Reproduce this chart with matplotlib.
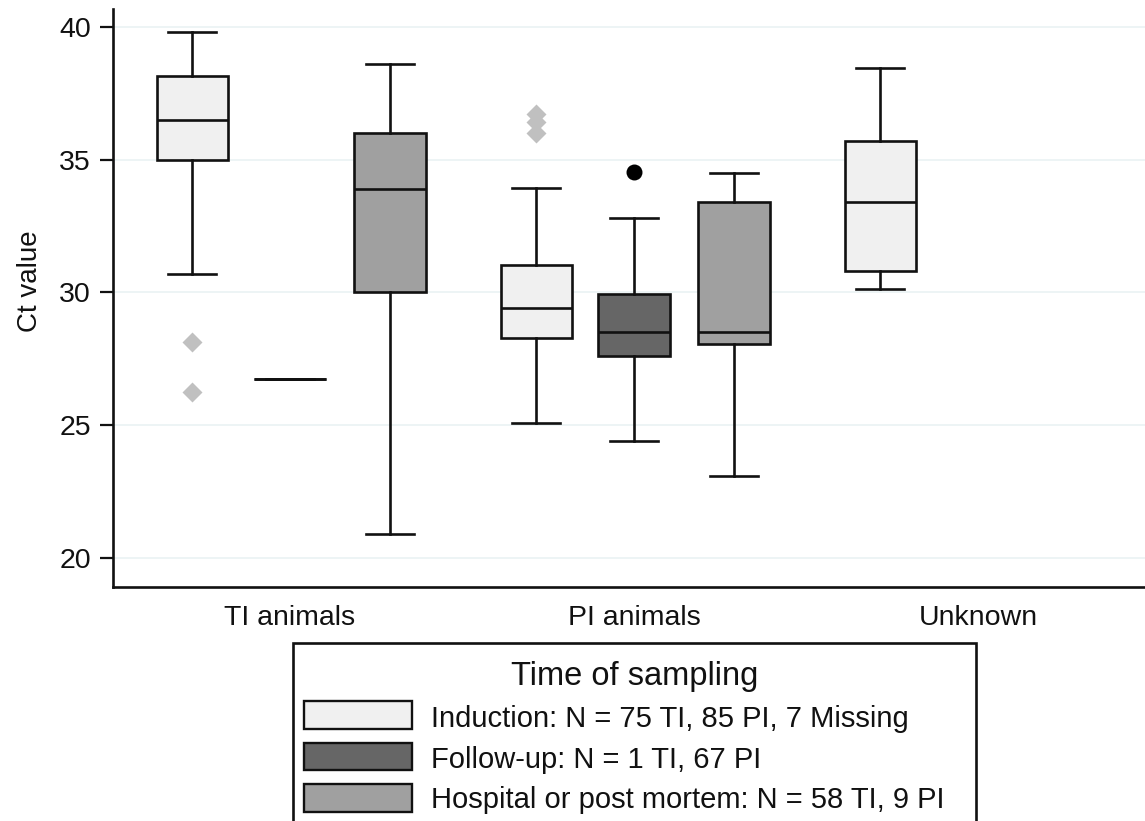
import matplotlib
matplotlib.use("Agg")
import matplotlib.pyplot as plt
from matplotlib.patches import Rectangle

plt.rcParams['font.family'] = ['Liberation Sans', 'DejaVu Sans']

# ---------------- data ----------------
groups = ["TI animals", "PI animals", "Unknown"]
time_labels = ["Induction: N = 75 TI, 85 PI, 7 Missing",
               "Follow-up: N = 1 TI, 67 PI",
               "Hospital or post mortem: N = 58 TI, 9 PI"]
time_colors = ["#F0F0F0", "#666666", "#A0A0A0"]
flier_colors = ["#C0C0C0", "#000000", "#C0C0C0"]
flier_markers = ["D", "o", "D"]

box_group = [0, 0, 0, 1, 1, 1, 2]
box_time = [0, 1, 2, 0, 1, 2, 0]
whislo = [30.7, 26.75, 20.9, 25.1, 24.4, 23.1, 30.15]
q1 = [35.0, 26.75, 30.0, 28.3, 27.6, 28.05, 30.8]
med = [36.5, 26.75, 33.9, 29.4, 28.5, 28.5, 33.4]
q3 = [38.15, 26.75, 36.0, 31.05, 29.95, 33.4, 35.7]
whishi = [39.8, 26.75, 38.6, 33.95, 32.8, 34.5, 38.45]
fliers = [[28.15, 26.25], [], [], [36.7, 36.4, 36.0], [34.55], [], []]

yticks = [20, 25, 30, 35, 40]

# ---------------- layout ----------------
W, H = 1145, 821
fig = plt.figure(figsize=(W / 100, H / 100), dpi=100)


def fx(px):
    return px / W


def fy(py):
    return 1 - py / H


ax_left, ax_right, ax_top, ax_bot = 113, 1145, 9, 587.3
ax = fig.add_axes([fx(ax_left), fy(ax_bot), fx(ax_right - ax_left), (ax_bot - ax_top) / H])

offsets = [-0.284, 0.0, 0.290]
positions = [g + offsets[t] for g, t in zip(box_group, box_time)]

stats = []
for i in range(len(med)):
    stats.append(dict(whislo=whislo[i], q1=q1[i], med=med[i], q3=q3[i],
                      whishi=whishi[i], fliers=fliers[i]))

lw = 1.9
res = ax.bxp(stats, positions=positions, widths=0.208, capwidths=0.14,
             patch_artist=True, showfliers=True, manage_ticks=False,
             boxprops=dict(edgecolor="#111111", linewidth=lw),
             medianprops=dict(color="#111111", linewidth=lw),
             whiskerprops=dict(color="#111111", linewidth=lw),
             capprops=dict(color="#111111", linewidth=lw),
             flierprops=dict(marker="D", markersize=9, markeredgecolor="none"))

for i, box in enumerate(res["boxes"]):
    box.set_facecolor(time_colors[box_time[i]])
for i, fl in enumerate(res["fliers"]):
    t = box_time[i]
    fl.set_marker(flier_markers[t])
    fl.set_markerfacecolor(flier_colors[t])
    fl.set_markeredgecolor("none")
    fl.set_markersize(10 if t == 0 else 11.5)

ax.set_xlim((ax_left - 290) / 344, (ax_right - 290) / 344)
px_per_unit = (558.3 - 26.7) / 20
ax.set_ylim(20 - (ax_bot - 558.3) / px_per_unit, 40 + (26.7 - ax_top) / px_per_unit)

ax.set_yticks(yticks)
ax.set_yticklabels([str(v) for v in yticks])
ax.set_xticks(range(len(groups)))
ax.set_xticklabels(groups)

ax.grid(axis="y", color="#EAF2F3", linewidth=1.2)
ax.set_axisbelow(True)

for s in ["top", "right"]:
    ax.spines[s].set_visible(False)
for s in ["left", "bottom"]:
    ax.spines[s].set_linewidth(1.9)
    ax.spines[s].set_color("#111111")

ax.tick_params(axis="y", direction="out", length=9.5, width=1.6, labelsize=20.5,
               pad=6.5, colors="#111111")
ax.tick_params(axis="x", length=0, labelsize=20.5, pad=13, colors="#111111")

ax.set_ylabel("Ct value", fontsize=20, color="#111111")
ax.yaxis.set_label_coords((43 - ax_left) / (ax_right - ax_left), (ax_bot - 281.5) / (ax_bot - ax_top))

# ---------------- legend ----------------
fig.add_artist(Rectangle((fx(292.5), fy(850)), fx(976 - 292.5), (850 - 643.3) / H,
                         transform=fig.transFigure, facecolor="white",
                         edgecolor="#111111", linewidth=1.9))
fig.text(fx(635), fy(685), "Time of sampling", ha="center", va="baseline",
         fontsize=23.5, color="#111111")

patch_top = [701, 743, 784]
patch_bot = [729, 770, 812]
baselines = [726.7, 768, 808.3]
for i, lab in enumerate(time_labels):
    fig.add_artist(Rectangle((fx(304), fy(patch_bot[i])), fx(412 - 304),
                             (patch_bot[i] - patch_top[i]) / H,
                             transform=fig.transFigure, facecolor=time_colors[i],
                             edgecolor="#111111", linewidth=1.7))
    fig.text(fx(431), fy(baselines[i]), lab, ha="left", va="baseline", fontsize=21,
             color="#111111")

fig.savefig("out.png", dpi=100)
